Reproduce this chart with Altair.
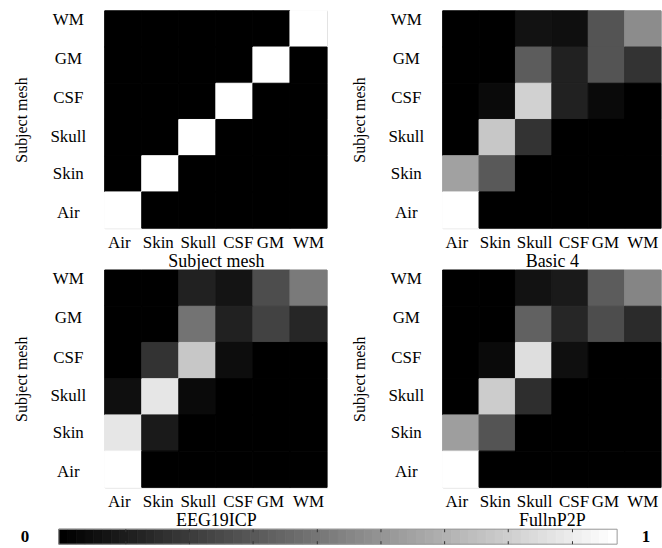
import altair as alt
import pandas as pd

tissues = ["Air", "Skin", "Skull", "CSF", "GM", "WM"]
rows_top_down = ["WM", "GM", "CSF", "Skull", "Skin", "Air"]

# values per row (top row WM ... bottom row Air), columns Air..WM
subject_mesh = [
    [0, 0, 0, 0, 0, 1],
    [0, 0, 0, 0, 1, 0],
    [0, 0, 0, 1, 0, 0],
    [0, 0, 1, 0, 0, 0],
    [0, 1, 0, 0, 0, 0],
    [1, 0, 0, 0, 0, 0],
]
basic4 = [
    [0, 0, 0.07, 0.06, 0.33, 0.55],
    [0, 0, 0.36, 0.13, 0.33, 0.20],
    [0, 0.04, 0.82, 0.13, 0.04, 0],
    [0, 0.78, 0.20, 0, 0, 0],
    [0.63, 0.35, 0, 0, 0, 0],
    [1.0, 0, 0, 0, 0, 0],
]
eeg19icp = [
    [0, 0, 0.13, 0.08, 0.30, 0.48],
    [0, 0, 0.45, 0.13, 0.26, 0.15],
    [0, 0.20, 0.78, 0.05, 0, 0],
    [0.06, 0.90, 0.04, 0, 0, 0],
    [0.90, 0.10, 0, 0, 0, 0],
    [1.0, 0, 0, 0, 0, 0],
]
fullnp2p = [
    [0, 0, 0.07, 0.10, 0.36, 0.52],
    [0, 0, 0.38, 0.15, 0.30, 0.17],
    [0, 0.04, 0.87, 0.06, 0, 0],
    [0, 0.80, 0.18, 0, 0, 0],
    [0.62, 0.33, 0, 0, 0, 0],
    [1.0, 0, 0, 0, 0, 0],
]
panel_titles = ["Subject mesh", "Basic 4", "EEG19ICP", "FullnP2P"]
# label shifts seen in the reference (pixels)
ylabel_shift = [-9, -6, -3, -1, 0, 3]
xlabel_shift = [-4, -2, 1, 4, -1, 0]

# colorbar tick positions (fraction of bar)
cbar_ticks = [0.12, 0.234, 0.348, 0.463, 0.577, 0.691, 0.805, 0.92]
cbar_ends = [0, 1]
cbar_labels = ["0", "1"]
n_steps = 64

FONT = "Liberation Serif"
gray = alt.Scale(domain=[0, 1], range=["#000000", "#ffffff"], interpolate="rgb")


def offsets(names, shifts):
    return {
        "condition": [
            {"test": f"datum.value === '{r}'", "value": s}
            for r, s in zip(names, shifts) if s != 0
        ],
        "value": 0,
    }


def panel(mat, title, width, height=218):
    recs = []
    for i, r in enumerate(rows_top_down):
        for j, c in enumerate(tissues):
            recs.append({"row": r, "col": c, "v": mat[i][j]})
    df = pd.DataFrame(recs)
    return alt.Chart(df).mark_rect(strokeWidth=1).encode(
        x=alt.X("col:N", sort=tissues,
                scale=alt.Scale(paddingInner=0, paddingOuter=0),
                axis=alt.Axis(title=title, labelAngle=0, ticks=False, tickSize=0,
                              grid=False, domain=False, labelPadding=6, titlePadding=2,
                              labelOffset=offsets(tissues, xlabel_shift),
                              labelFont=FONT, titleFont=FONT, labelFontSize=17,
                              titleFontSize=18, titleFontWeight="normal",
                              labelColor="black", titleColor="black")),
        y=alt.Y("row:N", sort=rows_top_down,
                scale=alt.Scale(paddingInner=0, paddingOuter=0),
                axis=alt.Axis(title="Subject mesh", ticks=False, tickSize=0,
                              grid=False, domain=False, labelPadding=37, labelAlign="center",
                              labelBaseline="middle",
                              labelOffset=offsets(rows_top_down, ylabel_shift),
                              titleX=-83, titleY=height / 2, titleAngle=270,
                              titleAlign="center", titleBaseline="middle",
                              labelFont=FONT, titleFont=FONT, labelFontSize=17,
                              titleFontSize=16, titleFontWeight="normal",
                              labelColor="black", titleColor="black")),
        color=alt.Color("v:Q", scale=gray, legend=None),
        stroke=alt.Stroke("v:Q", scale=gray, legend=None),
    ).properties(width=width, height=height)


p1 = panel(subject_mesh, panel_titles[0], 223)
p2 = panel(basic4, panel_titles[1], 219)
p3 = panel(eeg19icp, panel_titles[2], 223)
p4 = panel(fullnp2p, panel_titles[3], 219)

# colorbar
steps = pd.DataFrame({
    "lo": [i / n_steps for i in range(n_steps)],
    "hi": [(i + 1) / n_steps for i in range(n_steps)],
    "v": [i / (n_steps - 1) for i in range(n_steps)],
})
cx = alt.Scale(domain=[0, 1], range=[-46, 514])
bar = alt.Chart(steps).mark_rect(strokeWidth=0.8).encode(
    x=alt.X("lo:Q", scale=cx, axis=None),
    x2="hi:Q",
    color=alt.Color("v:Q", scale=gray, legend=None),
    stroke=alt.Stroke("v:Q", scale=gray, legend=None),
)
frame = alt.Chart(pd.DataFrame({"a": [cbar_ends[0]], "b": [cbar_ends[1]]})).mark_rect(
    fill=None, stroke="#999999", strokeWidth=1
).encode(x=alt.X("a:Q", scale=cx, axis=None), x2="b:Q")
tdf = pd.DataFrame({"t": cbar_ticks})
ticks_top = alt.Chart(tdf).mark_rule(color="#333333", strokeWidth=1).encode(
    x=alt.X("t:Q", scale=cx, axis=None), y=alt.value(0), y2=alt.value(3))
ticks_bot = alt.Chart(tdf).mark_rule(color="#333333", strokeWidth=1).encode(
    x=alt.X("t:Q", scale=cx, axis=None), y=alt.value(12), y2=alt.value(15))
ldf = pd.DataFrame({"p": cbar_ends, "lab": cbar_labels})
lab0 = alt.Chart(ldf.iloc[[0]]).mark_text(
    font=FONT, fontSize=17, fontWeight="bold", dx=-34, align="center", baseline="middle", color="black"
).encode(x=alt.X("p:Q", scale=cx, axis=None), y=alt.value(7.5), text="lab:N")
lab1 = alt.Chart(ldf.iloc[[1]]).mark_text(
    font=FONT, fontSize=17, fontWeight="bold", dx=29, align="center", baseline="middle", color="black"
).encode(x=alt.X("p:Q", scale=cx, axis=None), y=alt.value(7.5), text="lab:N")
cbar = alt.layer(bar, frame, ticks_top, ticks_bot, lab0, lab1).properties(
    width=223, height=15, view=alt.ViewConfig(stroke=None))

chart = alt.concat(
    p1, p2, p3, p4, cbar, columns=2,
    spacing={"row": 42, "column": 116}, bounds="flush", align="none",
).properties(
    padding={"left": 13, "top": 9, "right": 0, "bottom": 4},
    background="white",
).configure_view(stroke="#c8c8c8", strokeWidth=1).resolve_scale(color="shared", stroke="shared")

chart.save("out.html", embed_options={"renderer": "svg", "actions": False})
